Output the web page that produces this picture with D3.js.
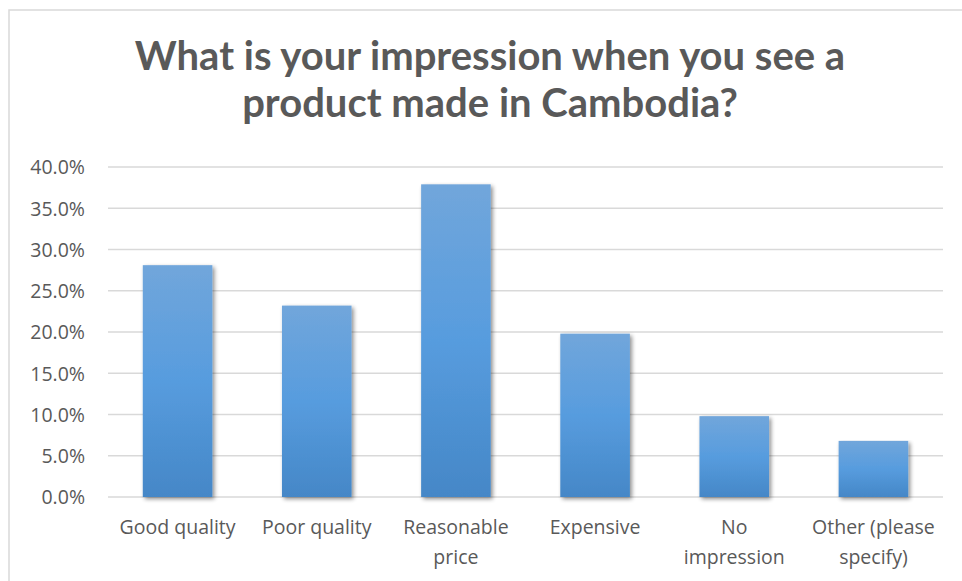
<!DOCTYPE html>
<html>
<head>
<meta charset="utf-8">
<script src="https://cdn.jsdelivr.net/npm/d3@7"></script>
<style>
  html, body { margin: 0; padding: 0; background: #fff; }
  svg { display: block; }
</style>
</head>
<body>
<svg id="chart" width="962" height="581"></svg>
<script>
const categories = ["Good quality", "Poor quality", "Reasonable price", "Expensive", "No impression", "Other (please specify)"];
const categoryLines = [["Good quality"], ["Poor quality"], ["Reasonable", "price"], ["Expensive"], ["No", "impression"], ["Other (please", "specify)"]];
const values = [0.281, 0.232, 0.379, 0.198, 0.098, 0.068];
const yTicks = [0, 0.05, 0.10, 0.15, 0.20, 0.25, 0.30, 0.35, 0.40];
const titleLines = ["What is your impression when you see a", "product made in Cambodia?"];

const svg = d3.select("#chart");
const margin = { left: 108, top: 167 };
const plotRight = 943, plotBottom = 497;

// Chart border (extends past the right/bottom edges)
svg.append("rect")
  .attr("x", 9).attr("y", 10)
  .attr("width", 1000).attr("height", 700)
  .attr("fill", "#fff").attr("stroke", "#d9d9d9").attr("stroke-width", 1.5);

const defs = svg.append("defs");
const grad = defs.append("linearGradient").attr("id", "barGrad")
  .attr("x1", 0).attr("y1", 0).attr("x2", 0).attr("y2", 1);
grad.append("stop").attr("offset", "0%").attr("stop-color", "#71a6db");
grad.append("stop").attr("offset", "50%").attr("stop-color", "#579cde");
grad.append("stop").attr("offset", "100%").attr("stop-color", "#4587c7");

const shadow = defs.append("filter").attr("id", "shadow")
  .attr("x", "-20%").attr("y", "-5%").attr("width", "150%").attr("height", "120%");
shadow.append("feGaussianBlur").attr("in", "SourceAlpha").attr("stdDeviation", 2.2);
shadow.append("feOffset").attr("dx", 2).attr("dy", 2).attr("result", "ob");
shadow.append("feComponentTransfer").append("feFuncA").attr("type", "linear").attr("slope", 0.45);
const merge = shadow.append("feMerge");
merge.append("feMergeNode");
merge.append("feMergeNode").attr("in", "SourceGraphic");

const x = d3.scaleBand().domain(categories).range([margin.left, plotRight]).paddingInner(0.5).paddingOuter(0.25);
const y = d3.scaleLinear().domain([0, 0.4]).range([plotBottom, margin.top]);

// Gridlines
svg.append("g").selectAll("line").data(yTicks).join("line")
  .attr("x1", margin.left).attr("x2", plotRight)
  .attr("y1", d => y(d)).attr("y2", d => y(d))
  .attr("stroke", "#d9d9d9").attr("stroke-width", 1.5);

// Y axis labels
const yAxis = d3.axisLeft(y).tickValues(yTicks).tickFormat(d3.format(".1%")).tickSize(0).tickPadding(0);
const yg = svg.append("g").attr("transform", "translate(85,0)").call(yAxis);
yg.select(".domain").remove();
yg.selectAll("text")
  .attr("font-family", "'Open Sans', sans-serif").attr("font-size", 19.5)
  .attr("fill", "#595959").attr("dy", "0.35em");

// Bars
svg.append("g").selectAll("rect").data(values).join("rect")
  .attr("x", (d, i) => x(categories[i]))
  .attr("width", x.bandwidth())
  .attr("y", d => y(d))
  .attr("height", d => plotBottom - y(d))
  .attr("fill", "url(#barGrad)")
  .attr("filter", "url(#shadow)");

// X labels
const xl = svg.append("g");
categories.forEach((c, i) => {
  const cx = x(c) + x.bandwidth() / 2;
  const t = xl.append("text")
    .attr("x", cx)
    .attr("y", 534)
    .attr("text-anchor", "middle")
    .attr("font-family", "'Open Sans', sans-serif").attr("font-size", 19.5)
    .attr("fill", "#595959");
  categoryLines[i].forEach((ln, j) => {
    t.append("tspan").attr("x", cx).attr("dy", j === 0 ? 0 : 30).text(ln);
  });
});

// Title
const tg = svg.append("g");
titleLines.forEach((ln, j) => {
  tg.append("text")
    .attr("x", 490).attr("y", 70 + j * 47)
    .attr("text-anchor", "middle")
    .attr("font-family", "Lato, 'Open Sans', sans-serif").attr("font-weight", "bold")
    .attr("font-size", 40)
    .attr("fill", "#595959")
    .text(ln);
});
</script>
</body>
</html>
